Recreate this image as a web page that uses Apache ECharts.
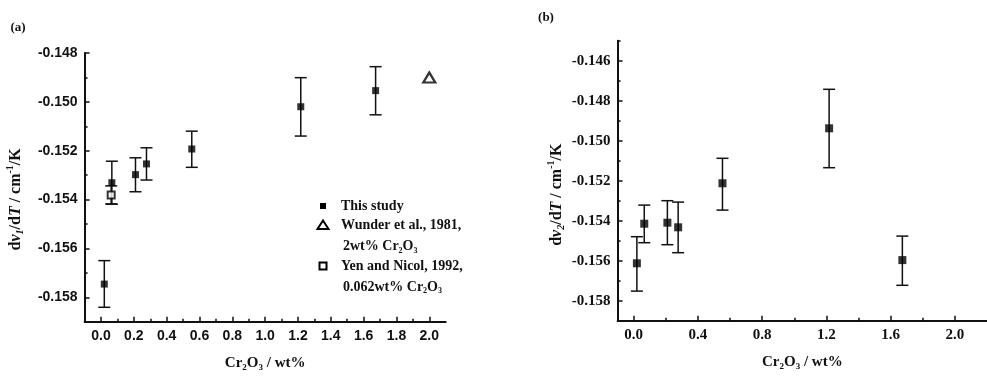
<!DOCTYPE html>
<html>
<head>
<meta charset="utf-8">
<script src="https://cdn.jsdelivr.net/npm/echarts@6/dist/echarts.min.js"></script>
<style>
  html, body { margin: 0; padding: 0; background: #fff; }
  #chart { width: 987px; height: 377px; }
</style>
</head>
<body>
<div id="chart"></div>
<script>
// Cr2O3 content of the samples (wt%)
const cr2o3Content = [0.02, 0.066, 0.21, 0.277, 0.553, 1.217, 1.673];

// Panel (a): temperature shift of mode 1 (cm^-1/K)
const nu1Slope = [-0.15746, -0.15331, -0.15298, -0.15254, -0.15193, -0.15020, -0.14954];
const nu1Upper = [-0.15650, -0.15243, -0.15229, -0.15188, -0.15120, -0.14901, -0.14856];
const nu1Lower = [-0.15841, -0.15419, -0.15368, -0.15320, -0.15268, -0.15140, -0.15053];

// Literature values for mode 1
const wunderPoint = [2.0, -0.14900];
const yenNicolPoint = [0.062, -0.15381];
const yenNicolUpper = -0.15344;
const yenNicolLower = -0.15418;

// Panel (b): temperature shift of mode 2 (cm^-1/K)
const nu2Slope = [-0.15613, -0.15415, -0.15410, -0.15433, -0.15213, -0.14938, -0.15597];
const nu2Upper = [-0.15480, -0.15322, -0.15300, -0.15307, -0.15088, -0.14743, -0.15477];
const nu2Lower = [-0.15752, -0.15510, -0.15520, -0.15560, -0.15347, -0.15135, -0.15723];

// Axis tick values
const xTicksA = [0, 0.2, 0.4, 0.6, 0.8, 1.0, 1.2, 1.4, 1.6, 1.8, 2.0];
const xMinorA = [0.1, 0.3, 0.5, 0.7, 0.9, 1.1, 1.3, 1.5, 1.7, 1.9];
const yTicksA = [-0.158, -0.156, -0.154, -0.152, -0.150, -0.148];
const yMinorA = [-0.157, -0.155, -0.153, -0.151, -0.149];
const xTicksB = [0, 0.4, 0.8, 1.2, 1.6, 2.0];
const xMinorB = [0.2, 0.6, 1.0, 1.4, 1.8];
const yTicksB = [-0.158, -0.156, -0.154, -0.152, -0.150, -0.148, -0.146];
const yMinorB = [-0.157, -0.155, -0.153, -0.151, -0.149, -0.147, -0.145];

const INK = '#111';
const SANS = '"Liberation Sans", Arial, sans-serif';
const SERIF = '"Liberation Serif", "Times New Roman", serif';

function pairs(xs, ys) { return xs.map((x, i) => [x, ys[i]]); }
function bars(xs, lo, hi) { return xs.map((x, i) => [x, lo[i], hi[i]]); }

function renderErrorBar(params, api) {
  const x = api.value(0);
  const top = api.coord([x, api.value(2)]);
  const bot = api.coord([x, api.value(1)]);
  const w = 6;
  const st = { stroke: INK, lineWidth: 1.5 };
  return {
    type: 'group',
    children: [
      { type: 'line', shape: { x1: top[0], y1: top[1], x2: bot[0], y2: bot[1] }, style: st },
      { type: 'line', shape: { x1: top[0] - w, y1: top[1], x2: top[0] + w, y2: top[1] }, style: st },
      { type: 'line', shape: { x1: bot[0] - w, y1: bot[1], x2: bot[0] + w, y2: bot[1] }, style: st }
    ]
  };
}

const subRich = (size, family) => ({
  t: { fontFamily: family, fontWeight: 'bold', fontSize: size, color: INK, lineHeight: 20 },
  i: { fontFamily: family, fontWeight: 'bold', fontStyle: 'italic', fontSize: size, color: INK, lineHeight: 20 },
  subi: { fontFamily: family, fontWeight: 'bold', fontStyle: 'italic', fontSize: Math.round(size * 0.6), color: INK, lineHeight: 20, verticalAlign: 'bottom' },
  sup: { fontFamily: family, fontWeight: 'bold', fontSize: Math.round(size * 0.6), color: INK, lineHeight: 20, verticalAlign: 'top' }
});

function valueAxis(gridIndex, min, max, ticks, labelFont, labelSize, fmtDigits, extra) {
  return Object.assign({
    type: 'value', gridIndex, min, max,
    splitLine: { show: false },
    axisLine: { show: true, onZero: false, lineStyle: { color: INK, width: 2 } },
    axisTick: { show: true, inside: true, length: 5, customValues: ticks, lineStyle: { color: INK, width: 1.5 } },
    axisLabel: {
      show: true, customValues: ticks, color: INK,
      fontFamily: labelFont, fontWeight: 'bold', fontSize: labelSize, margin: 7,
      formatter: v => v.toFixed(fmtDigits)
    }
  }, extra);
}

function minorAxis(gridIndex, min, max, ticks, position) {
  return {
    type: 'value', gridIndex, min, max, position, offset: 0,
    splitLine: { show: false },
    axisLine: { show: false, onZero: false },
    axisLabel: { show: false },
    axisTick: { show: true, inside: true, length: 3, customValues: ticks, lineStyle: { color: INK, width: 1.5 } }
  };
}

const xNameRich = {
  t: { fontFamily: SERIF, fontWeight: 'bold', fontSize: 15, color: INK, lineHeight: 18 },
  sub: { fontFamily: SERIF, fontWeight: 'bold', fontSize: 9, color: INK, lineHeight: 18, verticalAlign: 'bottom' }
};

const chart = echarts.init(document.getElementById('chart'), null, { renderer: 'canvas' });

const legendFont = 'bold 14px ' + SERIF;
const legendRich = {
  sub: { fontFamily: SERIF, fontWeight: 'bold', fontSize: 8, color: INK, verticalAlign: 'bottom', lineHeight: 16 },
  t: { fontFamily: SERIF, fontWeight: 'bold', fontSize: 14, color: INK, lineHeight: 16 }
};
function legendText(x, y, text) {
  return { type: 'text', x, y, style: { text, rich: legendRich, font: legendFont, fill: INK, verticalAlign: 'middle', align: 'left' } };
}

chart.setOption({
  animation: false,
  backgroundColor: '#fff',
  grid: [
    { left: 84.6, top: 53, width: 361.1, height: 268.7 },
    { left: 617.6, top: 40.7, width: 376.1, height: 280 }
  ],
  xAxis: [
    valueAxis(0, -0.1, 2.1, xTicksA, SANS, 14, 1, {
      position: 'bottom',
      name: '{t|Cr}{sub|2}{t|O}{sub|3}{t| / wt%}', nameLocation: 'middle', nameGap: 32,
      nameTextStyle: { rich: xNameRich }
    }),
    minorAxis(0, -0.1, 2.1, xMinorA, 'bottom'),
    valueAxis(1, -0.1, 2.2, xTicksB, SERIF, 15, 1, {
      position: 'bottom',
      name: '{t|Cr}{sub|2}{t|O}{sub|3}{t| / wt%}', nameLocation: 'middle', nameGap: 32,
      nameTextStyle: { rich: xNameRich }
    }),
    minorAxis(1, -0.1, 2.2, xMinorB, 'bottom')
  ],
  yAxis: [
    valueAxis(0, -0.159, -0.148, yTicksA, SANS, 14, 3, {
      position: 'left',
      name: '{t|d}{i|ν}{subi|1}{t|/d}{i|T}{t| / cm}{sup|-1}{t|/K}', nameLocation: 'middle', nameRotate: 90, nameGap: 59,
      nameTextStyle: { rich: subRich(16, SERIF), padding: [0, 24, 0, 0] }
    }),
    minorAxis(0, -0.159, -0.148, yMinorA, 'left'),
    valueAxis(1, -0.159, -0.145, yTicksB, SERIF, 15, 3, {
      position: 'left',
      name: '{t|d}{i|ν}{subi|2}{t|/d}{i|T}{t| / cm}{sup|-1}{t|/K}', nameLocation: 'middle', nameRotate: 90, nameGap: 51,
      nameTextStyle: { rich: subRich(16, SERIF), padding: [0, 28, 0, 0] }
    }),
    minorAxis(1, -0.159, -0.145, yMinorB, 'left')
  ],
  series: [
    {
      type: 'custom', name: 'nu1 error', xAxisIndex: 0, yAxisIndex: 0,
      renderItem: renderErrorBar, encode: { x: 0, y: [1, 2] },
      data: bars(cr2o3Content, nu1Lower, nu1Upper), z: 2
    },
    {
      type: 'custom', name: 'Yen error', xAxisIndex: 0, yAxisIndex: 0,
      renderItem: renderErrorBar, encode: { x: 0, y: [1, 2] },
      data: [[yenNicolPoint[0], yenNicolLower, yenNicolUpper]], z: 2
    },
    {
      type: 'scatter', name: 'This study', xAxisIndex: 0, yAxisIndex: 0,
      symbol: 'rect', symbolSize: 7, itemStyle: { color: '#000' },
      data: pairs(cr2o3Content, nu1Slope), z: 3
    },
    {
      type: 'scatter', name: 'Wunder et al., 1981', xAxisIndex: 0, yAxisIndex: 0,
      symbol: 'triangle', symbolSize: [12, 10],
      itemStyle: { color: '#fff', borderColor: '#000', borderWidth: 2.2 },
      data: [wunderPoint], z: 3
    },
    {
      type: 'scatter', name: 'Yen and Nicol, 1992', xAxisIndex: 0, yAxisIndex: 0,
      symbol: 'rect', symbolSize: 7,
      itemStyle: { color: '#fff', borderColor: '#000', borderWidth: 2 },
      data: [yenNicolPoint], z: 4
    },
    {
      type: 'custom', name: 'nu2 error', xAxisIndex: 2, yAxisIndex: 2,
      renderItem: renderErrorBar, encode: { x: 0, y: [1, 2] },
      data: bars(cr2o3Content, nu2Lower, nu2Upper), z: 2
    },
    {
      type: 'scatter', name: 'nu2', xAxisIndex: 2, yAxisIndex: 2,
      symbol: 'rect', symbolSize: 8, itemStyle: { color: '#000' },
      data: pairs(cr2o3Content, nu2Slope), z: 3
    }
  ],
  graphic: [
    { type: 'text', x: 18, y: 27.5, style: { text: '(a)', font: 'bold 13px ' + SERIF, fill: INK, align: 'center', verticalAlign: 'middle' } },
    { type: 'text', x: 546, y: 17.5, style: { text: '(b)', font: 'bold 13px ' + SERIF, fill: INK, align: 'center', verticalAlign: 'middle' } },
    // legend for panel (a)
    { type: 'rect', shape: { x: 320, y: 203, width: 6, height: 6 }, style: { fill: '#000' } },
    legendText(341, 206, '{t|This study}'),
    { type: 'polygon', shape: { points: [[323, 220.5], [317.5, 229], [328.5, 229]] }, style: { fill: '#fff', stroke: '#000', lineWidth: 2 } },
    legendText(341, 225, '{t|Wunder et al., 1981,}'),
    legendText(343, 246.7, '{t|2wt% Cr}{sub|2}{t|O}{sub|3}'),
    { type: 'rect', shape: { x: 319.5, y: 262.5, width: 7, height: 7 }, style: { fill: '#fff', stroke: '#000', lineWidth: 2 } },
    legendText(341, 266, '{t|Yen and Nicol, 1992,}'),
    legendText(343, 287, '{t|0.062wt% Cr}{sub|2}{t|O}{sub|3}')
  ]
});
</script>
</body>
</html>
